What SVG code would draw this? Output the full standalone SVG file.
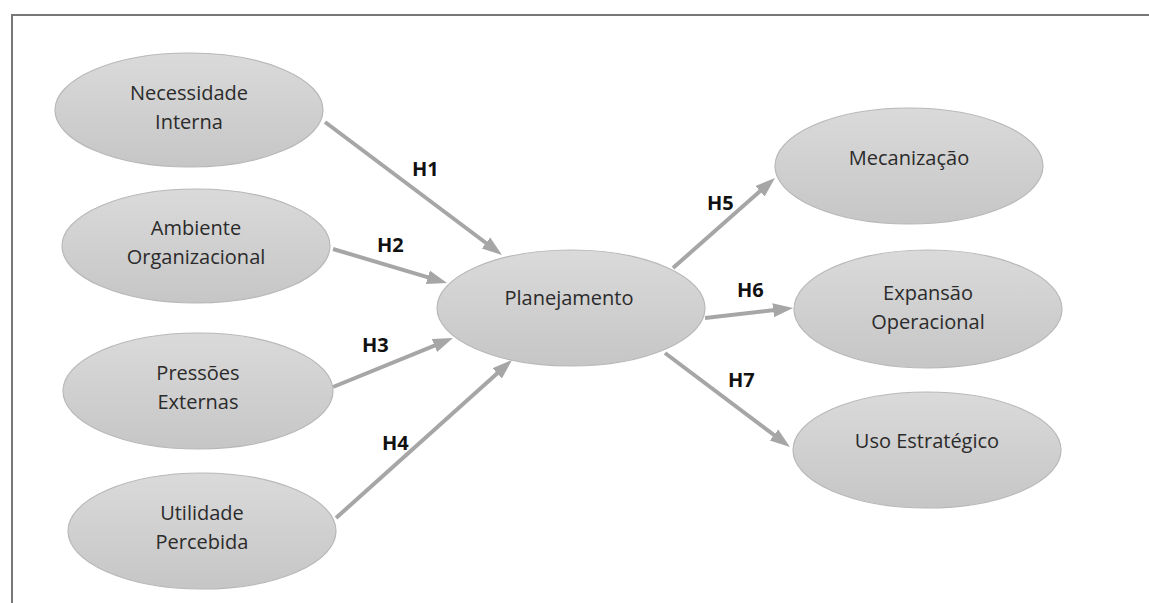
<svg xmlns="http://www.w3.org/2000/svg" width="1149" height="603" viewBox="0 0 1149 603">
<defs>
<linearGradient id="g" x1="0" y1="0" x2="0" y2="1">
<stop offset="0" stop-color="#dadada"/>
<stop offset="1" stop-color="#c6c6c6"/>
</linearGradient>
<marker id="ah" markerUnits="userSpaceOnUse" markerWidth="20" markerHeight="16" refX="10" refY="7" orient="auto" viewBox="0 0 20 14">
<path d="M0,0 L20,7 L0,14 z" fill="#a6a6a6"/>
</marker>
<style>
.n ellipse{fill:url(#g);stroke:#b8b8b8;stroke-width:1.2}
.n text{font-family:"Open Sans","Liberation Sans",sans-serif;font-size:20px;fill:#2b2b2b;text-anchor:middle}
.c line{stroke:#a6a6a6;stroke-width:4;marker-end:url(#ah)}
.lbl{font-family:"Open Sans","Liberation Sans",sans-serif;font-size:20px;font-weight:bold;fill:#111}
</style>
</defs>
<rect x="12" y="15" width="1150" height="600" fill="#fff" stroke="#777" stroke-width="2"/>
<g class="c" id="connectors">
<line x1="325" y1="122" x2="494" y2="249"/>
<line x1="333" y1="249" x2="437.4" y2="280.1"/>
<line x1="333" y1="387" x2="443.7" y2="341.8"/>
<line x1="336" y1="518" x2="504.6" y2="366.7"/>
<line x1="673" y1="268" x2="767.5" y2="184.6"/>
<line x1="705" y1="318" x2="783.1" y2="309.1"/>
<line x1="665" y1="353" x2="782" y2="441"/>
<text class="lbl" x="412" y="176">H1</text>
<text class="lbl" x="377" y="252">H2</text>
<text class="lbl" x="362" y="352">H3</text>
<text class="lbl" x="382" y="450">H4</text>
<text class="lbl" x="707" y="210">H5</text>
<text class="lbl" x="737" y="297">H6</text>
<text class="lbl" x="728" y="387">H7</text>
</g>
<g class="n" id="necessidade"><ellipse cx="189" cy="110" rx="134" ry="57"/><text x="189" y="100">Necessidade</text><text x="189" y="129">Interna</text></g>
<g class="n" id="ambiente"><ellipse cx="196" cy="246" rx="134" ry="57"/><text x="196" y="235">Ambiente</text><text x="196" y="264">Organizacional</text></g>
<g class="n" id="pressoes"><ellipse cx="198" cy="391" rx="135" ry="58"/><text x="198" y="380">Pressões</text><text x="198" y="409">Externas</text></g>
<g class="n" id="utilidade"><ellipse cx="202" cy="531" rx="134" ry="58"/><text x="202" y="520">Utilidade</text><text x="202" y="549">Percebida</text></g>
<g class="n" id="planejamento"><ellipse cx="571" cy="308" rx="134" ry="58"/><text x="569" y="305">Planejamento</text></g>
<g class="n" id="mecanizacao"><ellipse cx="909" cy="166" rx="134" ry="58"/><text x="909" y="165">Mecanização</text></g>
<g class="n" id="expansao"><ellipse cx="928" cy="309" rx="134" ry="59"/><text x="928" y="300">Expansão</text><text x="928" y="329">Operacional</text></g>
<g class="n" id="uso"><ellipse cx="927" cy="450" rx="134" ry="58"/><text x="927" y="448">Uso Estratégico</text></g>
</svg>
